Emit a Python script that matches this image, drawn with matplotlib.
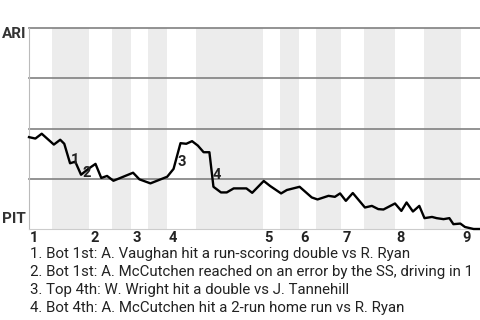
import matplotlib
matplotlib.use("Agg")
import matplotlib.pyplot as plt
import numpy as np

plt.rcParams['font.family'] = ['Roboto', 'DejaVu Sans']

# game progress (plate appearances) and Arizona win probability (%)
progress = [0.0, 1.1, 2.2, 4.3, 5.4, 6.1, 7.1, 8.0, 9.0, 10.3, 11.5, 12.5, 13.5,
            14.6, 18.0, 19.1, 21.0, 23.9, 25.0, 26.2, 27.2, 28.2, 29.2, 30.2,
            31.2, 31.9, 33.2, 34.2, 35.4, 37.6, 38.6, 40.6, 41.7, 43.6, 44.6,
            46.8, 48.9, 49.9, 51.8, 52.9, 53.8, 54.8, 56.0, 58.1, 59.3, 60.4,
            61.3, 63.3, 64.4, 65.3, 66.4, 67.5, 68.4, 69.7, 70.5, 71.7, 72.7,
            73.4, 74.6, 75.4, 76.9, 78.0]
ari_win = [45.7, 45.0, 47.4, 42.0, 44.4, 42.4, 32.7, 33.5, 27.0, 30.0, 32.4,
           25.4, 26.4, 24.0, 28.0, 24.7, 22.7, 26.0, 29.9, 42.7, 42.4, 43.7,
           41.5, 38.2, 38.2, 21.0, 18.2, 18.2, 20.2, 20.2, 18.0, 23.9, 21.4,
           17.7, 19.4, 21.0, 15.7, 14.7, 16.5, 16.0, 17.7, 14.0, 17.9, 10.7,
           11.5, 9.9, 9.7, 12.7, 9.0, 13.2, 8.7, 11.5, 5.4, 6.0, 5.4, 4.9,
           5.4, 2.4, 2.7, 1.0, 0.0, 0.0]

# start of each half inning (top, bottom, top, ...)
half_starts = [0.0, 4.0, 10.4, 14.4, 17.7, 20.6, 23.9, 28.9, 40.5, 43.4,
               46.7, 49.7, 54.0, 57.9, 63.3, 68.3, 74.7]
game_end = 78.0
innings = ['1', '2', '3', '4', '5', '6', '7', '8', '9']

# key events: progress, label, caption
event_x = [7.3, 9.2, 25.6, 32.0]
event_labels = ['1', '2', '3', '4']
event_offsets = [(0, 3), (0, 1), (0, -6), (-1, 12)]
captions = [
    "1. Bot 1st: A. Vaughan hit a run-scoring double vs R. Ryan",
    "2. Bot 1st: A. McCutchen reached on an error by the SS, driving in 1",
    "3. Top 4th: W. Wright hit a double vs J. Tannehill",
    "4. Bot 4th: A. McCutchen hit a 2-run home run vs R. Ryan",
]

fig = plt.figure(figsize=(4.8, 3.2), dpi=100)
ax = fig.add_axes([29 / 480, 91 / 320, 451 / 480, 201 / 320])

# bottom half innings shaded
for i in range(1, len(half_starts), 2):
    end = half_starts[i + 1] if i + 1 < len(half_starts) else game_end
    ax.axvspan(half_starts[i], end, color='#ececec', lw=0, zorder=0)

for g in [25, 50, 75, 100]:
    ax.axhline(g, color='#808080', lw=1.2, zorder=1, clip_on=False)

ax.plot(progress, ari_win, color='black', lw=1.7, zorder=3, clip_on=False)

for x, lab, (dx, dy) in zip(event_x, event_labels, event_offsets):
    y = np.interp(x, progress, ari_win)
    ax.annotate(lab, (x, y), xytext=(dx, dy), textcoords='offset pixels',
                ha='left', va='center', fontsize=10.5, fontweight='bold',
                color='#222222', zorder=4)

ax.set_xlim(0, game_end)
ax.set_ylim(0, 100)
ax.set_xticks([])
ax.set_yticks([])
for side in ['top', 'right']:
    ax.spines[side].set_visible(False)
ax.spines['left'].set_color('#bbbbbb')
ax.spines['bottom'].set_color('#cccccc')

# inning numbers under the start of each top half
for i, lab in enumerate(innings):
    ax.annotate(lab, (half_starts[2 * i], 0), xytext=(1, -2),
                textcoords='offset pixels', ha='left', va='top',
                fontsize=10.5, fontweight='bold', color='#222222',
                annotation_clip=False)

fig.text(26 / 480, 1 - 34 / 320, 'ARI', ha='right', va='center',
         fontsize=11, fontweight='bold', color='#333333')
fig.text(26 / 480, 1 - 219 / 320, 'PIT', ha='right', va='center',
         fontsize=11, fontweight='bold', color='#333333')

for k, cap in enumerate(captions):
    fig.text(30 / 480, 1 - (258.3 + 18 * k) / 320, cap, ha='left',
             va='baseline', fontsize=10.8, color='#222222')

fig.savefig('out.png', dpi=100)
